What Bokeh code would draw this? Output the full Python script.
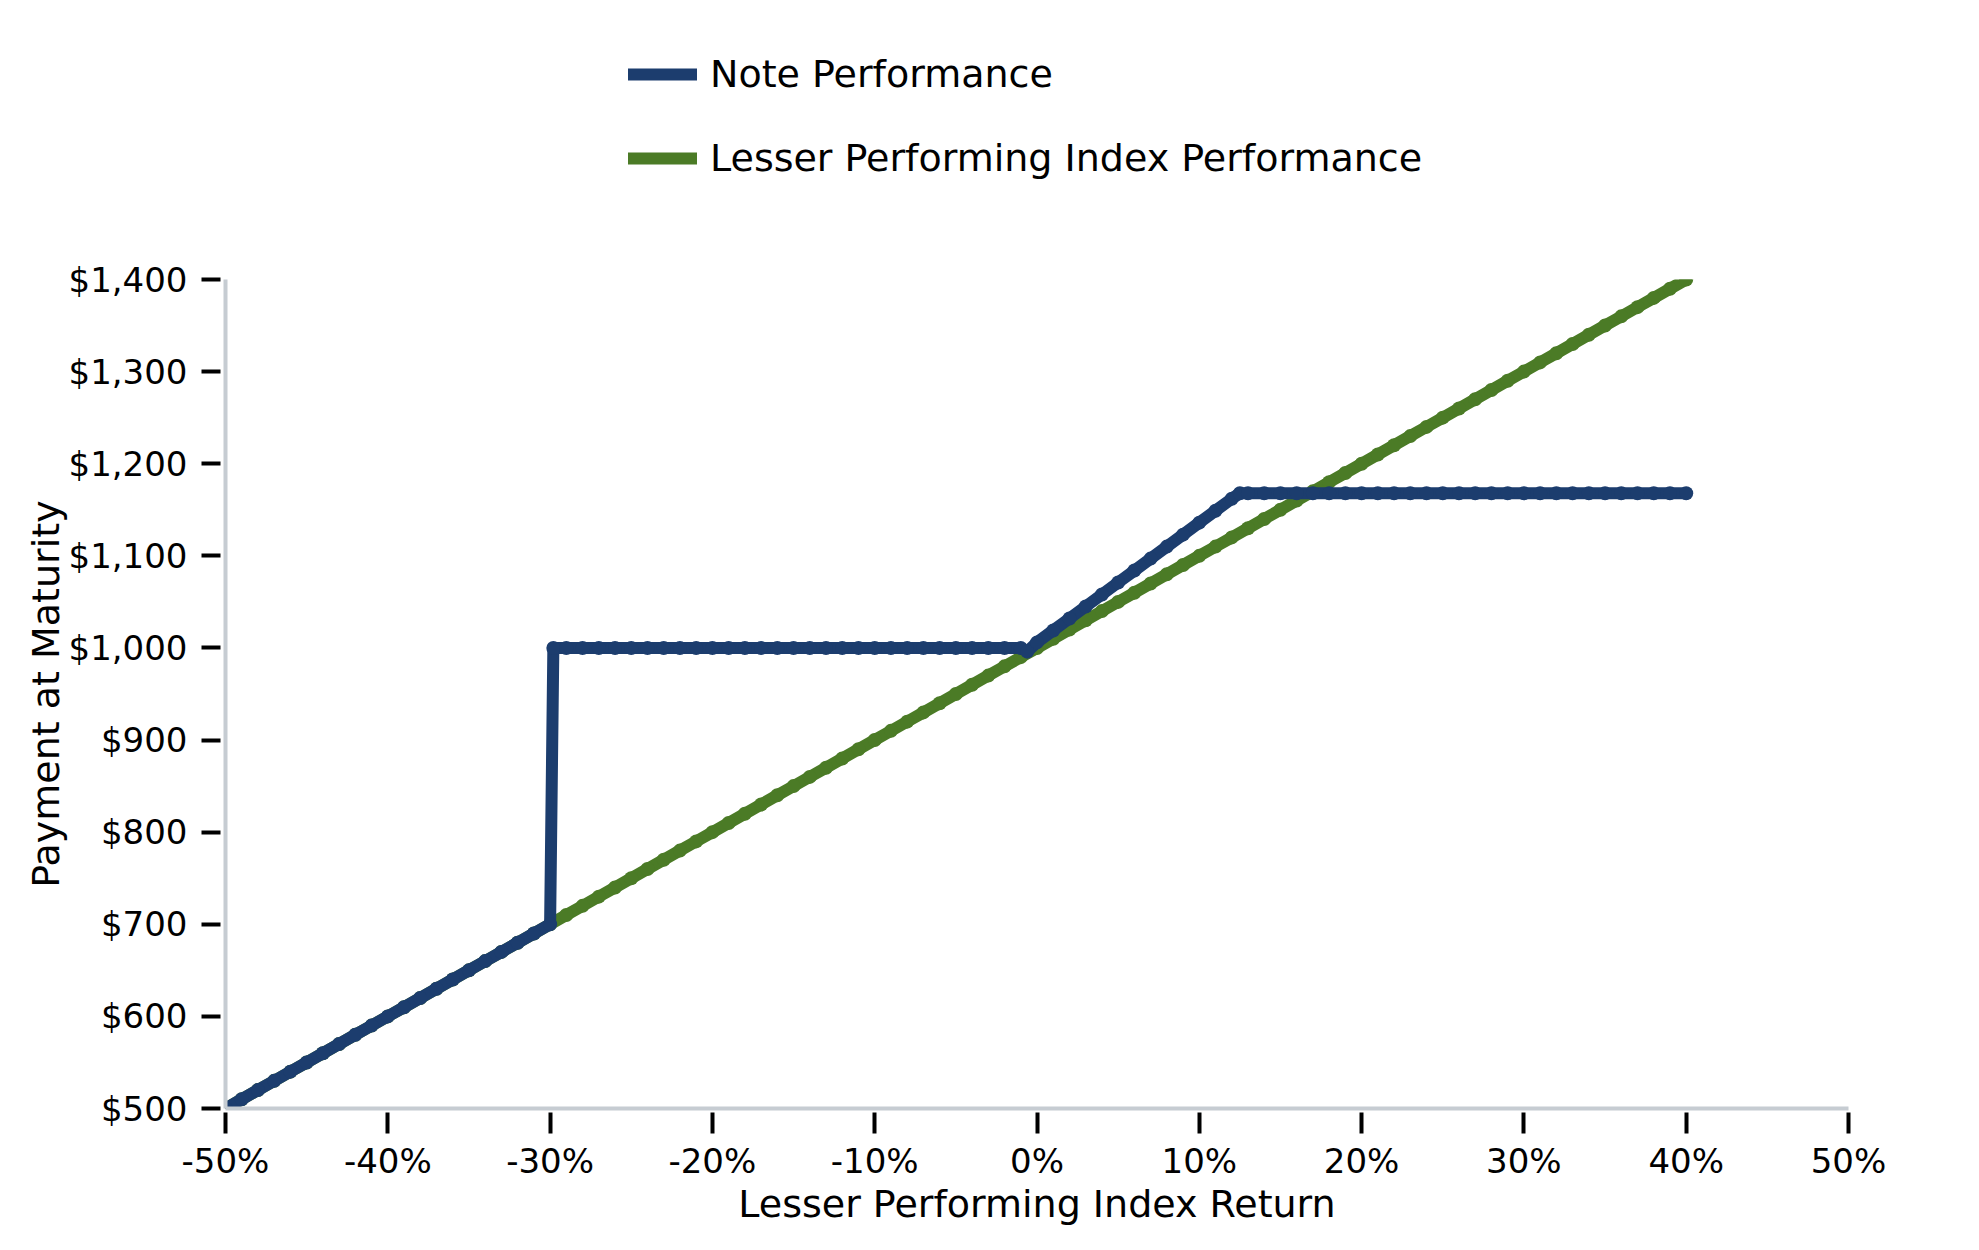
from bokeh.plotting import figure
from bokeh.models import Range1d, FixedTicker, Legend, LegendItem, ColumnDataSource
from bokeh.layouts import column
from bokeh.embed import file_html
from bokeh.resources import INLINE

# ---------------- data ----------------
index_return = [
    -50, -49, -48, -47, -46, -45, -44, -43, -42, -41,
    -40, -39, -38, -37, -36, -35, -34, -33, -32, -31,
    -30, -29, -28, -27, -26, -25, -24, -23, -22, -21,
    -20, -19, -18, -17, -16, -15, -14, -13, -12, -11,
    -10, -9, -8, -7, -6, -5, -4, -3, -2, -1,
    0, 1, 2, 3, 4, 5, 6, 7, 8, 9,
    10, 11, 12, 13, 14, 15, 16, 17, 18, 19,
    20, 21, 22, 23, 24, 25, 26, 27, 28, 29,
    30, 31, 32, 33, 34, 35, 36, 37, 38, 39,
    40,
]
index_payment = [
    500, 510, 520, 530, 540, 550, 560, 570, 580, 590,
    600, 610, 620, 630, 640, 650, 660, 670, 680, 690,
    700, 710, 720, 730, 740, 750, 760, 770, 780, 790,
    800, 810, 820, 830, 840, 850, 860, 870, 880, 890,
    900, 910, 920, 930, 940, 950, 960, 970, 980, 990,
    1000, 1010, 1020, 1030, 1040, 1050, 1060, 1070, 1080, 1090,
    1100, 1110, 1120, 1130, 1140, 1150, 1160, 1170, 1180, 1190,
    1200, 1210, 1220, 1230, 1240, 1250, 1260, 1270, 1280, 1290,
    1300, 1310, 1320, 1330, 1340, 1350, 1360, 1370, 1380, 1390,
    1400,
]

note_return = [
    -50, -49, -48, -47, -46, -45, -44, -43, -42, -41,
    -40, -39, -38, -37, -36, -35, -34, -33, -32, -31,
    -30, -29.8, -29, -28, -27, -26, -25, -24, -23, -22, -21,
    -20, -19, -18, -17, -16, -15, -14, -13, -12, -11,
    -10, -9, -8, -7, -6, -5, -4, -3, -2, -1, -0.6,
    0, 1, 2, 3, 4, 5, 6, 7, 8, 9,
    10, 11, 12, 12.5, 13, 14, 15, 16, 17, 18, 19,
    20, 21, 22, 23, 24, 25, 26, 27, 28, 29,
    30, 31, 32, 33, 34, 35, 36, 37, 38, 39,
    40,
]
note_payment = [
    500, 510, 520, 530, 540, 550, 560, 570, 580, 590,
    600, 610, 620, 630, 640, 650, 660, 670, 680, 690,
    700, 1000, 1000, 1000, 1000, 1000, 1000, 1000, 1000, 1000, 1000,
    1000, 1000, 1000, 1000, 1000, 1000, 1000, 1000, 1000, 1000,
    1000, 1000, 1000, 1000, 1000, 1000, 1000, 1000, 1000, 1000, 996,
    1006, 1019, 1032, 1045, 1058, 1071, 1084, 1097, 1110, 1123,
    1136, 1149, 1162, 1168, 1168, 1168, 1168, 1168, 1168, 1168, 1168,
    1168, 1168, 1168, 1168, 1168, 1168, 1168, 1168, 1168, 1168,
    1168, 1168, 1168, 1168, 1168, 1168, 1168, 1168, 1168, 1168,
    1168,
]

x_ticks = [-50, -40, -30, -20, -10, 0, 10, 20, 30, 40, 50]
x_tick_labels = ["-50%", "-40%", "-30%", "-20%", "-10%", "0%", "10%", "20%", "30%", "40%", "50%"]
y_ticks = [500, 600, 700, 800, 900, 1000, 1100, 1200, 1300, 1400]
y_tick_labels = ["$500", "$600", "$700", "$800", "$900", "$1,000", "$1,100", "$1,200", "$1,300", "$1,400"]

series_names = ["Note Performance", "Lesser Performing Index Performance"]
x_title = "Lesser Performing Index Return"
y_title = "Payment at Maturity"

# ---------------- style ----------------
FONT = "DejaVu Sans"
BLUE = "#1c3d6e"
GREEN = "#4b7b26"
AXIS_GRAY = "#c6ccd2"
TICK_COLOR = "#000000"

W = 1960
LEG_H = 200
MAIN_H = 1030
FRAME_LEFT = 225

# ---------- legend strip (top) ----------
leg_fig = figure(
    width=W, height=LEG_H, output_backend="svg", toolbar_location=None,
    x_range=Range1d(0, 1), y_range=Range1d(0, 1),
    x_axis_type=None, y_axis_type=None,
    min_border=0, min_border_left=0, min_border_right=0,
    min_border_top=0, min_border_bottom=0,
)
leg_fig.outline_line_color = None
leg_fig.grid.visible = False
# sample renderers placed outside the visible range: only their legend glyphs show
leg_note = leg_fig.line(x=[5, 6], y=[5, 6], line_width=12, color=BLUE, line_cap="round")
leg_index = leg_fig.line(x=[5, 6], y=[5, 6], line_width=12, color=GREEN, line_cap="round")
legend = Legend(
    items=[LegendItem(label=series_names[0], renderers=[leg_note]),
           LegendItem(label=series_names[1], renderers=[leg_index])],
    location=(628 - FRAME_LEFT, 17), orientation="vertical",
    padding=0, margin=0, spacing=34,
    label_height=50, glyph_height=50, glyph_width=69, label_standoff=13,
    border_line_color=None, background_fill_alpha=0,
    label_text_font=FONT, label_text_font_size="38px", label_text_color="black",
)
leg_fig.add_layout(legend, "center")

# ---------- main chart ----------
p = figure(
    width=W, height=MAIN_H,
    output_backend="svg", toolbar_location=None,
    x_range=Range1d(-50, 50), y_range=Range1d(500, 1400),
    min_border_left=FRAME_LEFT, min_border_right=W - 1848,
    min_border_top=279 - LEG_H, min_border_bottom=MAIN_H - (1108 - LEG_H),
)
p.outline_line_color = None
p.grid.visible = False
p.background_fill_color = "white"
p.border_fill_color = "white"

green_src = ColumnDataSource(dict(x=index_return, y=index_payment))
note_src = ColumnDataSource(dict(x=note_return, y=note_payment))

p.line("x", "y", source=green_src, line_width=12, color=GREEN,
       line_join="round", line_cap="round")
p.scatter("x", "y", source=green_src, size=14, color=GREEN, line_width=0)
p.line("x", "y", source=note_src, line_width=12, color=BLUE,
       line_join="round", line_cap="round")
p.scatter("x", "y", source=note_src, size=14, color=BLUE, line_width=0)

for ax in (p.xaxis[0], p.yaxis[0]):
    ax.axis_line_color = AXIS_GRAY
    ax.axis_line_width = 4
    ax.major_tick_line_color = TICK_COLOR
    ax.major_tick_line_width = 4
    ax.minor_tick_line_color = None
    ax.major_label_text_font = FONT
    ax.major_label_text_font_size = "34px"
    ax.major_label_text_color = "black"
    ax.axis_label_text_font = FONT
    ax.axis_label_text_font_size = "38px"
    ax.axis_label_text_font_style = "normal"
    ax.axis_label_text_color = "black"

xa = p.xaxis[0]
xa.ticker = FixedTicker(ticks=x_ticks)
xa.major_label_overrides = {t: l for t, l in zip(x_ticks, x_tick_labels)}
xa.major_tick_in = -4
xa.major_tick_out = 25
xa.major_label_standoff = 7
xa.axis_label = x_title
xa.axis_label_standoff = -2

ya = p.yaxis[0]
ya.ticker = FixedTicker(ticks=y_ticks)
ya.major_label_overrides = {t: l for t, l in zip(y_ticks, y_tick_labels)}
ya.major_tick_in = -5
ya.major_tick_out = 24
ya.major_label_standoff = 14
ya.axis_label = y_title
ya.axis_label_standoff = -2

layout = column(leg_fig, p, spacing=0)
open("out.html", "w").write(file_html(layout, INLINE))
